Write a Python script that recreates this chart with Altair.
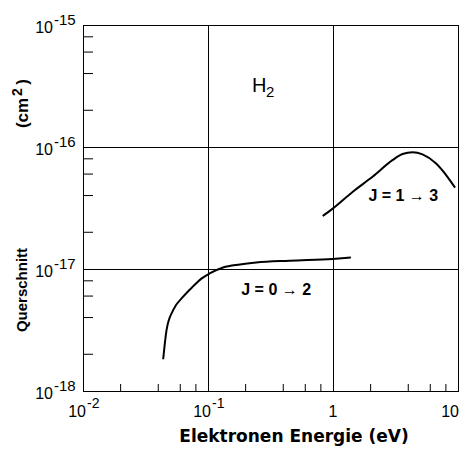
import altair as alt
import pandas as pd

# ---- data ----
j02_energy = [0.0438, 0.0466, 0.0526, 0.063, 0.0759, 0.088, 0.103, 0.132, 0.18, 0.243, 0.449, 0.995, 1.39]
j02_sigma = [1.82e-18, 3.16e-18, 4.6e-18, 5.9e-18, 7.2e-18, 8.3e-18, 9.2e-18, 1.03e-17, 1.09e-17, 1.13e-17, 1.17e-17, 1.21e-17, 1.24e-17]

j13_energy = [0.828, 1.0, 1.44, 2.07, 2.99, 3.6, 4.33, 5.2, 6.65, 8.23, 9.48]
j13_sigma = [2.72e-17, 3.14e-17, 4.3e-17, 5.7e-17, 7.8e-17, 8.77e-17, 9.05e-17, 8.7e-17, 7.35e-17, 5.7e-17, 4.64e-17]

x_major = [0.01, 0.1, 1, 10]
x_base = ["10", "10", "1", "10"]
x_exp = ["-2", "-1", "", ""]
y_major = [1e-18, 1e-17, 1e-16, 1e-15]
y_base = ["10", "10", "10", "10"]
y_exp = ["-18", "-17", "-16", "-15"]
minor_mult = [2, 4, 6, 8]

ann_text = ["J = 0 \u2192 2", "J = 1 \u2192 3"]
ann_x = [0.351, 3.65]
ann_y = [6.73e-18, 3.96e-17]

W, H = 375, 366
FONT = "Liberation Sans"

xs = alt.Scale(type="log", domain=[0.01, 10], nice=False)
ys = alt.Scale(type="log", domain=[1e-18, 1e-15], nice=False)

curves = pd.DataFrame({
    "E": j02_energy + j13_energy,
    "s": j02_sigma + j13_sigma,
    "c": ["J02"] * len(j02_energy) + ["J13"] * len(j13_energy),
})

base = alt.Chart(curves).mark_line(color="black", strokeWidth=2, clip=True,
                                   interpolate="monotone").encode(
    x=alt.X("E:Q", scale=xs, axis=alt.Axis(values=x_major, labels=False, ticks=False, grid=True,
                                           gridColor="black", gridOpacity=1, gridWidth=1,
                                           domainColor="black", title=None)),
    y=alt.Y("s:Q", scale=ys, axis=alt.Axis(values=y_major, labels=False, ticks=False, grid=True,
                                           gridColor="black", gridOpacity=1, gridWidth=1,
                                           domainColor="black", title=None)),
    detail="c:N",
)

xminor = pd.DataFrame({"v": [m * d for d in x_major[:-1] for m in minor_mult]})
yminor = pd.DataFrame({"v": [m * d for d in y_major[:-1] for m in minor_mult]})

xticks = alt.Chart(xminor).mark_rule(color="black", strokeWidth=1).encode(
    x=alt.X("v:Q", scale=xs), y=alt.value(H), y2=alt.value(H - 7))
yticks = alt.Chart(yminor).mark_rule(color="black", strokeWidth=1).encode(
    y=alt.Y("v:Q", scale=ys), x=alt.value(0), x2=alt.value(10))

xl = pd.DataFrame({"v": x_major, "b": x_base, "e": x_exp})
yl = pd.DataFrame({"v": y_major, "b": y_base, "e": y_exp})

xlab_b = alt.Chart(xl).transform_filter("datum.e != ''").mark_text(
    font=FONT, fontSize=16, align="right", baseline="alphabetic", dx=3).encode(
    x=alt.X("v:Q", scale=xs), y=alt.value(H + 26), text="b:N")
xlab_e = alt.Chart(xl).transform_filter("datum.e != ''").mark_text(
    font=FONT, fontSize=14, align="left", baseline="alphabetic", dx=4).encode(
    x=alt.X("v:Q", scale=xs), y=alt.value(H + 17), text="e:N")
xlab_p1 = alt.Chart(xl).transform_filter("datum.e == '' && datum.v < 5").mark_text(
    font=FONT, fontSize=16, align="center", baseline="alphabetic").encode(
    x=alt.X("v:Q", scale=xs), y=alt.value(H + 26), text="b:N")
xlab_p2 = alt.Chart(xl).transform_filter("datum.e == '' && datum.v > 5").mark_text(
    font=FONT, fontSize=16, align="right", baseline="alphabetic", dx=1).encode(
    x=alt.X("v:Q", scale=xs), y=alt.value(H + 26), text="b:N")

ylab_b = alt.Chart(yl).mark_text(
    font=FONT, fontSize=16, align="right", baseline="alphabetic", dy=8).encode(
    y=alt.Y("v:Q", scale=ys), x=alt.value(-30), text="b:N")
ylab_e = alt.Chart(yl).mark_text(
    font=FONT, fontSize=15, align="left", baseline="alphabetic", dy=0, dx=1).encode(
    y=alt.Y("v:Q", scale=ys), x=alt.value(-30), text="e:N")

ann = pd.DataFrame({"t": ann_text, "x": ann_x, "y": ann_y})
ann_layer = alt.Chart(ann).mark_text(font=FONT, fontSize=16, fontWeight="bold",
                                     baseline="middle").encode(
    x=alt.X("x:Q", scale=xs), y=alt.Y("y:Q", scale=ys), text="t:N")

h2 = pd.DataFrame({"t": ["H"], "s": ["2"], "x": [0.225], "y": [2.85e-16]})
h_layer = alt.Chart(h2).mark_text(font=FONT, fontSize=20, align="left", baseline="alphabetic").encode(
    x=alt.X("x:Q", scale=xs), y=alt.Y("y:Q", scale=ys), text="t:N")
h2_layer = alt.Chart(h2).mark_text(font=FONT, fontSize=15, align="left", baseline="alphabetic",
                                   dx=14, dy=5).encode(
    x=alt.X("x:Q", scale=xs), y=alt.Y("y:Q", scale=ys), text="s:N")

titles = pd.DataFrame({"t": ["Elektronen Energie  (eV)"]})
xtitle = alt.Chart(titles).mark_text(font="DejaVu Sans", fontSize=17, fontWeight="bold",
                                     align="center", baseline="alphabetic").encode(
    x=alt.value(211), y=alt.value(H + 51), text="t:N")

yt_main = pd.DataFrame({"t": ["Querschnitt"]})
yt_unit = pd.DataFrame({"t": ["(cm"]})
yt_sup = pd.DataFrame({"t": ["2"]})
yt_close = pd.DataFrame({"t": [")"]})


def ytext(df, xx, yy, fs):
    return alt.Chart(df).mark_text(font=FONT, fontWeight="bold", fontSize=fs, angle=270,
                                   baseline="middle", align="center").encode(
        x=alt.value(xx), y=alt.value(yy), text="t:N")


ytitle = alt.layer(
    ytext(yt_main, -61, 265, 15),
    ytext(yt_unit, -60, 88, 17),
    ytext(yt_sup, -65, 67, 14),
    ytext(yt_close, -60, 57, 17),
)

chart = alt.layer(base, xticks, yticks, xlab_b, xlab_e, xlab_p1, xlab_p2, ylab_b, ylab_e,
                  ann_layer, h_layer, h2_layer, xtitle, ytitle).properties(
    width=W, height=H,
    autosize=alt.AutoSizeParams(type="none"),
    padding={"left": 75, "top": 17, "right": 1, "bottom": 56},
    background="white",
).configure_view(stroke="black", strokeWidth=1)

chart.save("out.html", embed_options={"renderer": "svg", "actions": False})
